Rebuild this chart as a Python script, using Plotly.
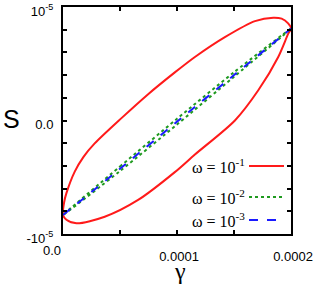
import plotly.graph_objects as go

# gamma in units of 1e-4, S in units of 1e-5
red_gamma = [0, 0.01, 0.03, 0.103, 0.18, 0.278, 0.513, 0.747, 0.981, 1.157, 1.42, 1.684, 1.845, 1.918, 1.975, 2.0,
             1.976, 1.888, 1.713, 1.508, 1.157, 0.981, 0.659, 0.366, 0.118, 0.03, 0]
red_S = [-0.833, -0.72, -0.64, -0.45, -0.32, -0.202, 0.021, 0.232, 0.424, 0.56, 0.735, 0.876, 0.906, 0.897, 0.855, 0.81,
         0.765, 0.56, 0.266, 0.0, -0.30, -0.455, -0.70, -0.848, -0.906, -0.875, -0.833]

green_gamma = [0, 0.5, 1.0, 1.5, 2.0, 1.5, 1.0, 0.5, 0]
green_S = [-0.833, -0.405, 0.015, 0.425, 0.81, 0.385, -0.035, -0.445, -0.833]

blue_gamma = [0, 0.5, 1.0, 1.5, 2.0]
blue_S = [-0.833, -0.425, -0.01, 0.40, 0.81]

legend_labels = ["ω = 10<sup>-1</sup>", "ω = 10<sup>-2</sup>", "ω = 10<sup>-3</sup>"]
colors = ["#ff1a1a", "#1f9a1f", "#1a1aff"]
dashes = ["solid", "dot", "dash"]

x_tickvals = [0, 0.5e-4, 1e-4, 1.5e-4, 2e-4]
x_ticktext = ["", "", "0.0001", "", "0.0002"]
y_tickvals = [-1e-5, -0.8e-5, -0.6e-5, -0.4e-5, -0.2e-5, 0, 0.2e-5, 0.4e-5, 0.6e-5, 0.8e-5, 1e-5]
y_ticktext = ["-10<sup>-5</sup>", "", "", "", "", "0.0", "", "", "", "", "10<sup>-5</sup>"]

W, H = 315, 287
L, R, T, B = 63, 24, 7, 53
PW, PH = W - L - R, H - T - B


def px(x):
    return (x - L) / PW


def py(y):
    return (H - B - y) / PH


fig = go.Figure()
series = [(red_gamma, red_S), (green_gamma, green_S), (blue_gamma, blue_S)]
for (g, s), c, d in zip(series, colors, dashes):
    fig.add_trace(go.Scatter(
        x=[v * 1e-4 for v in g], y=[v * 1e-5 for v in s], mode="lines",
        line=dict(color=c, width=2, dash=d, shape="spline", smoothing=0.8),
        showlegend=False, hoverinfo="skip", cliponaxis=False))

sans = "Liberation Sans, Arial, sans-serif"
serif = "Liberation Serif, Times New Roman, serif"
font = dict(family=sans, size=13, color="black")
axis_common = dict(showgrid=False, zeroline=False, ticks="inside", ticklen=4, tickwidth=1.5,
                   tickcolor="black", showline=True, linecolor="black", linewidth=2, mirror="ticks",
                   tickfont=font, automargin=False, ticklabeloverflow="allow")

fig.update_layout(
    template="none",
    width=W, height=H, margin=dict(l=L, r=R, t=T, b=B),
    paper_bgcolor="white", plot_bgcolor="white", font=font,
    xaxis=dict(range=[0, 2e-4], tickmode="array", tickvals=x_tickvals, ticktext=x_ticktext,
               ticklabelstandoff=9, ticklabelshift=2, **axis_common),
    yaxis=dict(range=[-1e-5, 1e-5], tickmode="array", tickvals=y_tickvals, ticktext=y_ticktext,
               ticklabelstandoff=5, ticklabelshift=4, **axis_common),
)

ann = [
    dict(x=px(52), y=py(250), text="0.0", font=font),
    dict(x=px(11), y=py(119), text="S", font=dict(family=sans, size=25, color="black")),
    dict(x=px(180), y=py(271), text="γ", font=dict(family=serif, size=24, color="black")),
]
for a in ann:
    a.update(xref="paper", yref="paper", showarrow=False, xanchor="center", yanchor="middle")
legend_y = [166, 197, 220]
for lab, c, d, yy in zip(legend_labels, colors, dashes, legend_y):
    ann.append(dict(x=px(247), y=py(yy), xref="paper", yref="paper", text=lab, showarrow=False,
                    xanchor="right", yanchor="middle",
                    font=dict(family=serif, size=16, color="black")))
    fig.add_shape(type="line", xref="paper", yref="paper", x0=px(249), x1=px(284), y0=py(yy), y1=py(yy),
                  line=dict(color=c, width=2, dash=d))
fig.update_layout(annotations=ann)

fig.write_html("out.html", config={"displayModeBar": False},
               post_script="document.body.style.margin='0';document.body.style.overflow='hidden';")
